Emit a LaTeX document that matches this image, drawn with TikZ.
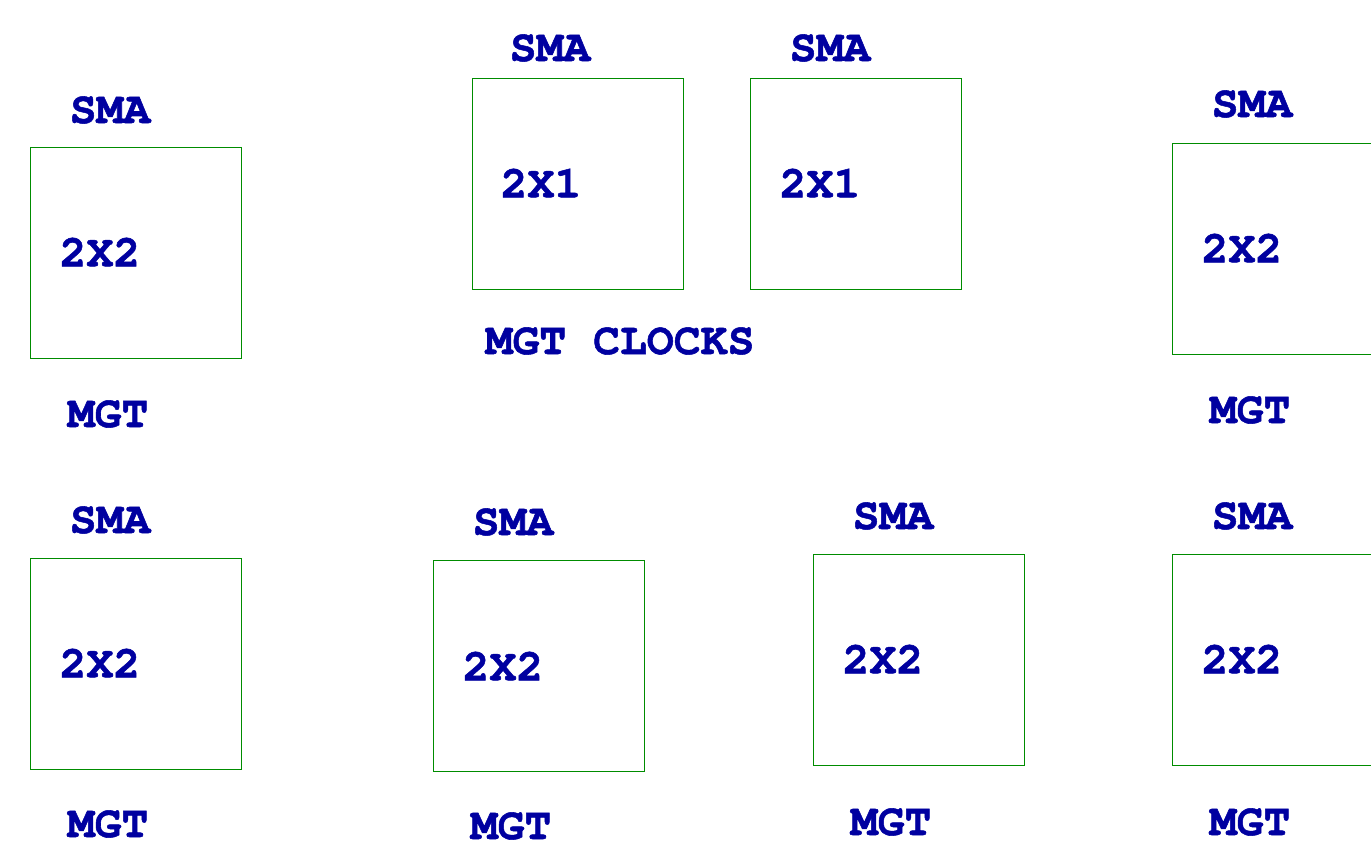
\documentclass[tikz,border=0pt]{standalone}
\usepackage{fontspec}
\newfontfamily\cursorfont{texgyrecursor}[Extension=.otf, UprightFont=*-regular, BoldFont=*-bold, BoldFeatures={FakeBold=1.2}]
\usepackage{tikz}
\usetikzlibrary{positioning}
\definecolor{lblblue}{RGB}{0,0,160}
\definecolor{boxgreen}{RGB}{0,140,0}
\tikzset{blk/.style={draw=boxgreen, line width=0.5pt, minimum width=105.5pt, minimum height=105.5pt, inner sep=0pt}}
\tikzset{l/.style={text=lblblue, font=\cursorfont\bfseries\fontsize{22.4}{22.4}\selectfont, inner sep=0pt}}

\begin{document}
\begin{tikzpicture}[x=0.5pt, y=-0.5pt]
        \useasboundingbox (0,0) rectangle (1371,846);
        % top row
        \node [blk] (M1) at (135.5,253) {};
        \node [l] (M1s) at (110,110) {SMA};
        \node [l] (M1m) at (108,414) {MGT};
        \node [l] (M1t) at (100,252) {2X2};
        \node [blk] (C1) at (577.5,184) {};
        \node [l] (C1s) at (550,48) {SMA};
        \node [l] (C1t) at (541,183) {2X1};
        \node [blk] (C2) at (855.5,184) {};
        \node [l] (C2s) at (830,48) {SMA};
        \node [l] (C2t) at (820,183) {2X1};
        \node [l] (clk) at (620,341) {MGT CLOCKS};
        \node [blk] (M2) at (1277.5,249) {};
        \node [l] (M2s) at (1252,104) {SMA};
        \node [l] (M2m) at (1250,410) {MGT};
        \node [l] (M2t) at (1242,248) {2X2};
        % bottom row
        \node [blk] (M3) at (135.5,663.5) {};
        \node [l] (M3s) at (110,520) {SMA};
        \node [l] (M3m) at (108,824) {MGT};
        \node [l] (M3t) at (100,663) {2X2};
        \node [blk] (M4) at (538.5,665.5) {};
        \node [l] (M4s) at (513,522) {SMA};
        \node [l] (M4m) at (511,826) {MGT};
        \node [l] (M4t) at (503,666) {2X2};
        \node [blk] (M5) at (918.5,659.5) {};
        \node [l] (M5s) at (893,516) {SMA};
        \node [l] (M5m) at (891,822) {MGT};
        \node [l] (M5t) at (883,659) {2X2};
        \node [blk] (M6) at (1277.5,659.5) {};
        \node [l] (M6s) at (1252,516) {SMA};
        \node [l] (M6m) at (1250,822) {MGT};
        \node [l] (M6t) at (1242,659) {2X2};
\end{tikzpicture}
\end{document}
